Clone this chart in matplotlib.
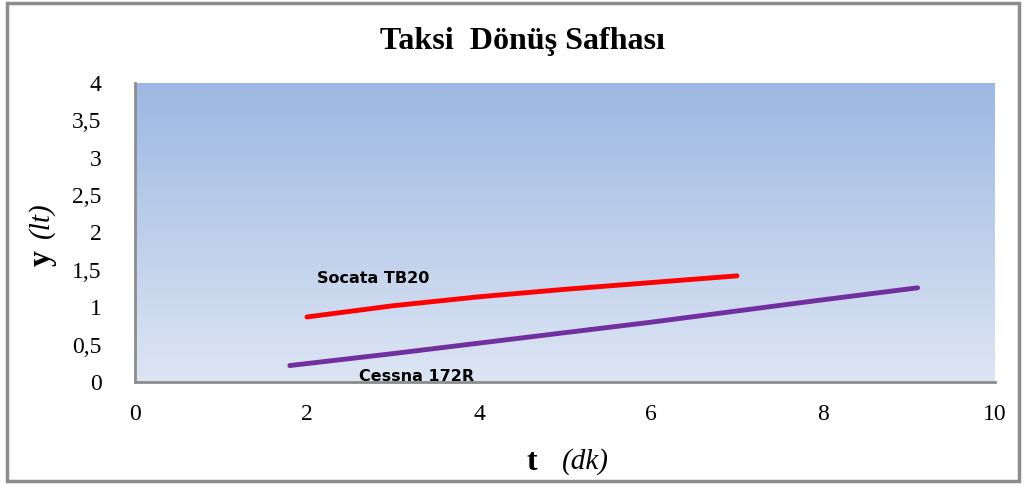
import matplotlib.pyplot as plt
import numpy as np
from matplotlib.patches import Rectangle
from matplotlib.colors import LinearSegmentedColormap

plt.rcParams['font.family'] = ['Liberation Serif', 'DejaVu Serif']

# fuel use during taxi phase
t_socata = [2.0, 3.0, 4.0, 5.0, 6.0, 7.0]
y_socata = [0.87, 1.02, 1.14, 1.24, 1.33, 1.42]
t_cessna = [1.8, 3.0, 4.0, 5.0, 6.0, 7.0, 8.0, 9.1]
y_cessna = [0.22, 0.38, 0.52, 0.66, 0.80, 0.95, 1.10, 1.26]
x_ticks = [0, 2, 4, 6, 8, 10]
y_ticks = [0, 0.5, 1, 1.5, 2, 2.5, 3, 3.5, 4]

fig = plt.figure(figsize=(10.27, 4.84), dpi=100)
ax = fig.add_axes([135/1027, 1 - 382/484, 860/1027, 299/484])

# outer chart frame
fig.patches.append(Rectangle((7/1027, 3/484), 1012/1027, 478/484, transform=fig.transFigure,
                             fill=False, edgecolor='#8c8c8c', linewidth=2.5))

# vertical gradient background
cmap = LinearSegmentedColormap.from_list('bg', ['#dde5f3', '#9db8e3'])
grad = np.linspace(0, 1, 256).reshape(-1, 1)
ax.imshow(grad, extent=[0, 1, 0, 1], transform=ax.transAxes, cmap=cmap,
          origin='lower', aspect='auto', zorder=0)

ax.plot(t_socata, y_socata, color='#ff0000', linewidth=3.5, solid_capstyle='round')
ax.plot(t_cessna, y_cessna, color='#7030a0', linewidth=3.5, solid_capstyle='round')
ax.text(2.12, 1.38, 'Socata TB20', fontsize=11.5, fontweight='heavy', family='DejaVu Sans',
        va='center')
ax.text(2.6, 0.08, 'Cessna 172R', fontsize=11.5, fontweight='heavy', family='DejaVu Sans',
        va='center')

ax.set_xlim(0, 10)
ax.set_ylim(0, 4)
ax.set_xticks(x_ticks)
ax.set_yticks(y_ticks)
ax.set_xticklabels([str(v) for v in x_ticks])
ax.set_yticklabels([('%g' % v).replace('.', ',') for v in y_ticks])
ax.tick_params(length=0, labelsize=17)
ax.tick_params(axis='x', pad=16)
ax.tick_params(axis='y', pad=24)
for s in ['top', 'right']:
    ax.spines[s].set_visible(False)
for s in ['left', 'bottom']:
    ax.spines[s].set_color('#8c8c8c')
    ax.spines[s].set_linewidth(2)

fig.text(522/1027, 1 - 42/484, 'Taksi  Dönüş Safhası', fontsize=23, fontweight='bold',
         ha='center', va='center')
fig.text(532/1027, 1 - 462/484, 't', fontsize=23, fontweight='bold', ha='center', va='center')
fig.text(585/1027, 1 - 462/484, '(dk)', fontsize=21, style='italic', ha='center', va='center')
fig.text(42/1027, 1 - 258/484, 'y', fontsize=23, fontweight='bold', rotation=90, ha='center', va='center')
fig.text(42/1027, 1 - 220/484, '(lt)', fontsize=21, style='italic', rotation=90, ha='center', va='center')

fig.savefig('out.png', dpi=100)
